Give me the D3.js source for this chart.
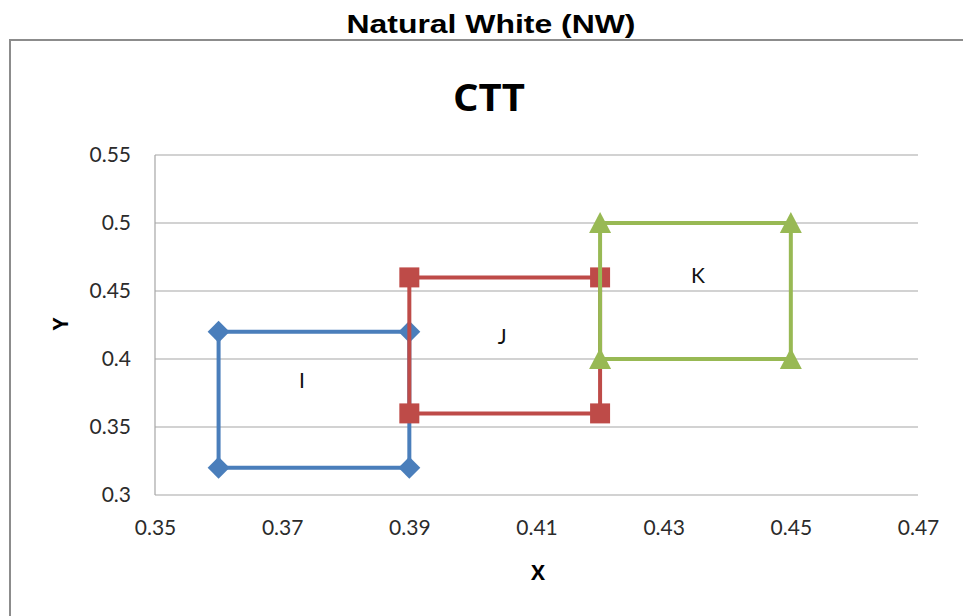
<!DOCTYPE html>
<html>
<head>
<meta charset="utf-8">
<script src="https://cdn.jsdelivr.net/npm/d3@7"></script>
<style>
  body { margin: 0; background: #fff; }
  svg { display: block; }
  .tick-label { font-family: Lato, "Open Sans", sans-serif; font-size: 21px; fill: #2b2b2b; }
  .box-label { font-family: Lato, "Open Sans", sans-serif; font-size: 21px; fill: #111; }
</style>
</head>
<body>
<svg id="chart" width="963" height="616"></svg>
<script>
// CTT chromaticity boxes, Natural White (NW)
const W = 963, H = 616;

const xTicks = [0.35, 0.37, 0.39, 0.41, 0.43, 0.45, 0.47];
const yTicks = [0.3, 0.35, 0.4, 0.45, 0.5, 0.55];

// box corners (closed outline)
const boxI = [[0.36, 0.32], [0.36, 0.42], [0.39, 0.42], [0.39, 0.32], [0.36, 0.32]];
const boxJ = [[0.39, 0.36], [0.39, 0.46], [0.42, 0.46], [0.42, 0.36], [0.39, 0.36]];
const boxK = [[0.42, 0.40], [0.42, 0.50], [0.45, 0.50], [0.45, 0.40], [0.42, 0.40]];

const boxNames = ['I', 'J', 'K'];
const labelX = [0.3731, 0.4046, 0.4354];
const labelY = [0.3846, 0.4176, 0.4625];

const series = [
  { pts: boxI, color: '#4a7ebb', marker: 'diamond' },
  { pts: boxJ, color: '#be4b48', marker: 'square' },
  { pts: boxK, color: '#98b954', marker: 'triangle' }
];

const plot = { left: 155, right: 918, top: 155, bottom: 495 };

const x = d3.scaleLinear().domain([0.35, 0.47]).range([plot.left, plot.right]);
const y = d3.scaleLinear().domain([0.3, 0.55]).range([plot.bottom, plot.top]);

const svg = d3.select('#chart');

// outer frame (only top + left are visible in the crop)
svg.append('path')
  .attr('d', `M10,${H} L10,40 L${W},40`)
  .attr('fill', 'none')
  .attr('stroke', '#8c8c8c')
  .attr('stroke-width', 2);

// page title
svg.append('text')
  .attr('x', 491).attr('y', 33)
  .attr('text-anchor', 'middle')
  .attr('font-family', '"Liberation Sans", Arial, sans-serif')
  .attr('font-weight', 'bold')
  .attr('font-size', 26)
  .attr('textLength', 289)
  .attr('lengthAdjust', 'spacingAndGlyphs')
  .text('Natural White (NW)');

// chart title
svg.append('text')
  .attr('x', 489).attr('y', 111)
  .attr('text-anchor', 'middle')
  .attr('font-family', '"Open Sans", Lato, sans-serif')
  .attr('font-weight', 'bold')
  .attr('font-size', 37)
  .attr('textLength', 72)
  .attr('lengthAdjust', 'spacingAndGlyphs')
  .text('CTT');

// gridlines
svg.append('g')
  .selectAll('line')
  .data(yTicks)
  .join('line')
  .attr('x1', plot.left).attr('x2', plot.right)
  .attr('y1', d => y(d)).attr('y2', d => y(d))
  .attr('stroke', '#a6a6a6')
  .attr('stroke-width', 1.2);

// left axis line
svg.append('line')
  .attr('x1', plot.left).attr('x2', plot.left)
  .attr('y1', plot.top).attr('y2', plot.bottom)
  .attr('stroke', '#a6a6a6')
  .attr('stroke-width', 1.2);

// y axis
const yAxis = svg.append('g')
  .attr('transform', `translate(${plot.left},0)`)
  .call(d3.axisLeft(y).tickValues(yTicks).tickSize(0).tickPadding(24).tickFormat(d3.format('')));
yAxis.select('.domain').remove();
yAxis.selectAll('text').attr('class', 'tick-label').attr('font-family', null).attr('font-size', null);

// x axis
const xAxis = svg.append('g')
  .attr('transform', `translate(0,${plot.bottom})`)
  .call(d3.axisBottom(x).tickValues(xTicks).tickSize(0).tickPadding(25).tickFormat(d3.format('')));
xAxis.select('.domain').remove();
xAxis.selectAll('text').attr('class', 'tick-label').attr('font-family', null).attr('font-size', null);

// axis titles
svg.append('text')
  .attr('x', 538).attr('y', 580)
  .attr('text-anchor', 'middle')
  .attr('font-family', '"Open Sans", Lato, sans-serif')
  .attr('font-weight', 'bold')
  .attr('font-size', 21)
  .text('X');

svg.append('text')
  .attr('transform', 'translate(68,324) rotate(-90)')
  .attr('text-anchor', 'middle')
  .attr('font-family', '"Open Sans", Lato, sans-serif')
  .attr('font-weight', 'bold')
  .attr('font-size', 21)
  .text('Y');

// series
const line = d3.line().x(d => x(d[0])).y(d => y(d[1]));
const markerPath = {
  diamond: d3.symbol().type(d3.symbolSquare).size(240)(),
  square: d3.symbol().type(d3.symbolSquare).size(400)(),
  triangle: 'M0,-11L11,10L-11,10Z'
};

series.forEach(s => {
  const g = svg.append('g');
  g.append('path')
    .attr('d', line(s.pts))
    .attr('fill', 'none')
    .attr('stroke', s.color)
    .attr('stroke-width', 4);
  g.selectAll('path.mk')
    .data(s.pts.slice(0, 4))
    .join('path')
    .attr('class', 'mk')
    .attr('d', markerPath[s.marker])
    .attr('fill', s.color)
    .attr('transform', d => {
      let t = `translate(${x(d[0])},${y(d[1])})`;
      if (s.marker === 'diamond') t += ' rotate(45)';
      return t;
    });
});

// box labels
svg.append('g')
  .selectAll('text')
  .data(boxNames)
  .join('text')
  .attr('class', 'box-label')
  .attr('x', (d, i) => x(labelX[i]))
  .attr('y', (d, i) => y(labelY[i]))
  .attr('text-anchor', 'middle')
  .attr('dominant-baseline', 'central')
  .text(d => d);
</script>
</body>
</html>
